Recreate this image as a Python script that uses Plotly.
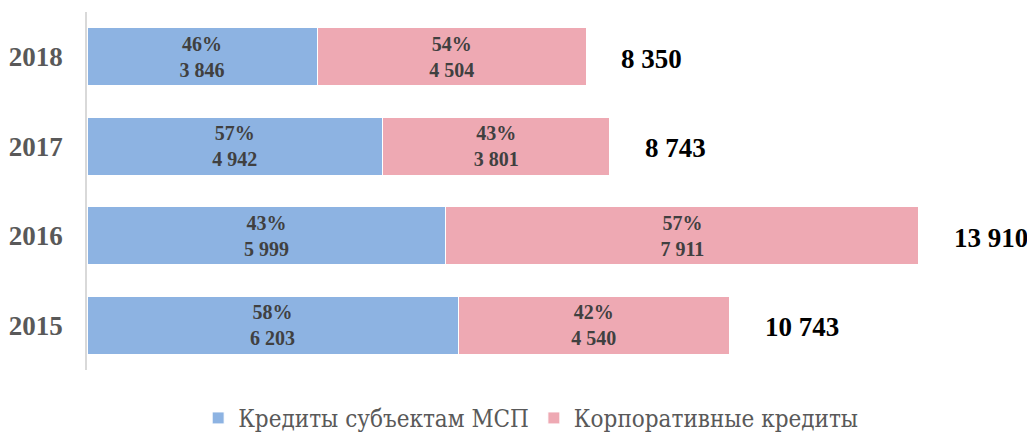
import plotly.graph_objects as go

years = ["2015", "2016", "2017", "2018"]
msp = [6203, 5999, 4942, 3846]
corp = [4540, 7911, 3801, 4504]
series_names = ["Кредиты субъектам МСП", "Корпоративные кредиты"]
colors = ["#8DB3E2", "#EEA9B3"]

totals = [a + b for a, b in zip(msp, corp)]


def fmt(v):
    return f"{v:,}".replace(",", " ")


msp_text = [f"<b>{round(a / t * 100)}%<br>{fmt(a)}</b>" for a, t in zip(msp, totals)]
corp_text = [f"<b>{round(b / t * 100)}%<br>{fmt(b)}</b>" for b, t in zip(corp, totals)]

FONT = "Liberation Serif"
LEGEND_FONT = "DejaVu Serif Condensed"

fig = go.Figure()
for vals, txt, name, col in [(msp, msp_text, series_names[0], colors[0]),
                             (corp, corp_text, series_names[1], colors[1])]:
    fig.add_trace(go.Bar(
        y=years, x=vals, orientation="h", name=name,
        marker=dict(color=col, line=dict(color="white", width=1)),
        text=txt, textposition="inside", insidetextanchor="middle",
        textangle=0,
        textfont=dict(family=FONT, size=20, color="#404040"),
        hoverinfo="skip",
    ))

for i, t in enumerate(totals):
    fig.add_annotation(
        x=t, y=i, xref="x", yref="y", text=f"<b>{fmt(t)}</b>", showarrow=False,
        xanchor="left", xshift=33, yshift=-2,
        font=dict(family=FONT, size=27, color="black"),
    )

# page body has an 8px margin; compensate so the figure fills the 1035x436 view
fig.update_layout(
    width=1027, height=428,
    barmode="stack", bargap=0.35,
    plot_bgcolor="white", paper_bgcolor="white",
    font=dict(family=FONT),
    margin=dict(l=79, r=0, t=4, b=66, autoexpand=False),
    showlegend=True,
    legend=dict(orientation="h", x=0.468, xanchor="center", y=-0.135,
                yanchor="middle",
                font=dict(family=LEGEND_FONT, size=24, color="#595959"),
                traceorder="normal", itemwidth=30),
    xaxis=dict(range=[0, 15850], showgrid=False, showticklabels=False,
               zeroline=False, showline=False, automargin=False),
    yaxis=dict(type="category", showgrid=False, showline=True,
               linecolor="#D9D9D9", automargin=False,
               linewidth=1.5, ticks="", ticklabelstandoff=17,
               range=[-0.5, 3.5],
               tickfont=dict(family=FONT, size=27, color="#595959")),
)
fig.update_yaxes(tickvals=years, ticktext=[f"<b>{y}</b>" for y in years])

fig.write_html("out.html")
